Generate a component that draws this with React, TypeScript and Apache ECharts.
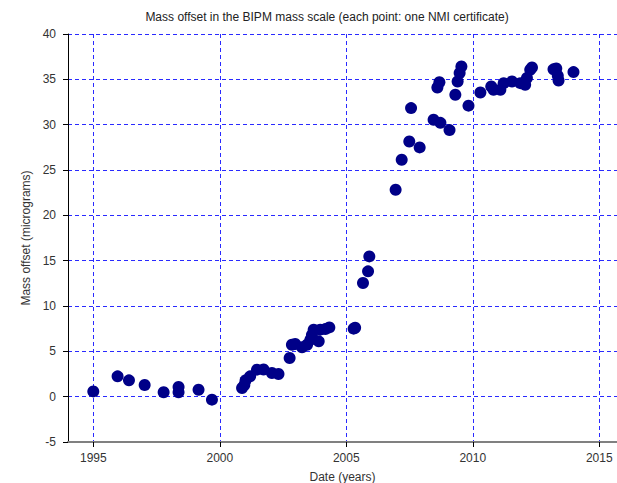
import React, { useEffect, useRef } from "react";
import * as echarts from "echarts";

const titleText = "Mass offset in the BIPM mass scale (each point: one NMI certificate)";
const xName = "Date (years)";
const yName = "Mass offset (micrograms)";

const xTicks = [1995, 2000, 2005, 2010, 2015];

const years = [
  1993.85, 1995.0, 1995.96, 1996.41, 1997.03, 1997.78, 1998.37, 1998.37, 1999.16, 1999.69,
  2000.88, 2000.97, 2001.02, 2001.2, 2001.47, 2001.73, 2002.06, 2002.32, 2002.76, 2002.85,
  2002.98, 2003.25, 2003.45, 2003.58, 2003.64, 2003.71, 2003.91, 2003.97, 2004.17, 2004.33,
  2005.29, 2005.35, 2005.66, 2005.86, 2005.91, 2006.95, 2007.19, 2007.49, 2007.56, 2007.9,
  2008.45, 2008.6, 2008.68, 2008.72, 2009.08, 2009.31, 2009.4, 2009.48, 2009.55, 2009.83,
  2010.3, 2010.73, 2010.82, 2011.09, 2011.22, 2011.55, 2011.88, 2012.07, 2012.14, 2012.27,
  2012.34, 2013.19, 2013.3, 2013.36, 2013.39, 2013.98,
];

const offsets = [
  -1.55, 0.58, 2.24, 1.8, 1.29, 0.48, 1.07, 0.48, 0.77, -0.33,
  0.95, 1.3, 1.8, 2.24, 2.98, 3.0, 2.61, 2.5, 4.26, 5.73,
  5.81, 5.44, 5.73, 6.28, 6.8, 7.39, 6.1, 7.39, 7.45, 7.64,
  7.5, 7.6, 12.54, 13.82, 15.47, 22.82, 26.13, 28.15, 31.83, 27.49,
  30.54, 34.1, 34.68, 30.2, 29.4, 33.3, 34.76, 35.7, 36.42, 32.1,
  33.55, 34.21, 33.85, 33.85, 34.58, 34.76, 34.58, 34.4, 35.14, 36.05,
  36.3, 36.1, 36.2, 35.4, 34.87, 35.8,
];

export default function App() {
  const ref = useRef<HTMLDivElement>(null);
  useEffect(() => {
    document.body.style.margin = "0";
    const chart = echarts.init(ref.current!, null, { renderer: "svg" });
    const font = "Liberation Sans, Arial, sans-serif";
    const gridLine = { show: true, lineStyle: { color: "#2a2aff", width: 1, type: [4, 3] as any } };
    chart.setOption({
      animation: false,
      backgroundColor: "#ffffff",
      textStyle: { fontFamily: font },
      graphic: [
        {
          type: "text",
          x: 327,
          y: 17,
          style: {
            text: titleText,
            fill: "#222",
            font: `12px ${font}`,
            textAlign: "center",
            textVerticalAlign: "middle",
          },
        },
      ],
      grid: { left: 68, right: 0, top: 34, bottom: 41, containLabel: false, outerBoundsMode: "none" },
      xAxis: {
        type: "value",
        min: 1994,
        max: 2015.7,
        name: xName,
        nameLocation: "middle",
        nameGap: 29,
        nameTextStyle: { color: "#333", fontSize: 12, fontFamily: font },
        axisLine: { show: true, onZero: false, lineStyle: { color: "#808080", width: 2 } },
        axisTick: { show: true, inside: false, length: 5, customValues: xTicks, lineStyle: { color: "#000" } },
        axisLabel: {
          customValues: xTicks,
          color: "#333",
          fontSize: 12,
          margin: 10,
          fontFamily: font,
          formatter: (v: number) => String(Math.round(v)),
        },
        splitLine: gridLine,
      },
      yAxis: {
        type: "value",
        min: -5,
        max: 40,
        interval: 5,
        name: yName,
        nameLocation: "middle",
        nameGap: 31,
        nameTextStyle: { color: "#333", fontSize: 12, fontFamily: font },
        axisLine: { show: true, onZero: false, lineStyle: { color: "#000", width: 1 } },
        axisTick: { show: true, inside: false, length: 5, lineStyle: { color: "#000" } },
        axisLabel: { color: "#333", fontSize: 12, margin: 12, fontFamily: font },
        splitLine: gridLine,
      },
      series: [
        {
          type: "scatter",
          data: years.map((y, i) => [y, offsets[i]]),
          symbol: "circle",
          symbolSize: 12,
          clip: true,
          itemStyle: { color: "#000088", opacity: 1 },
        },
      ],
    });
    return () => chart.dispose();
  }, []);
  return <div ref={ref} style={{ width: 617, height: 483 }} />;
}
